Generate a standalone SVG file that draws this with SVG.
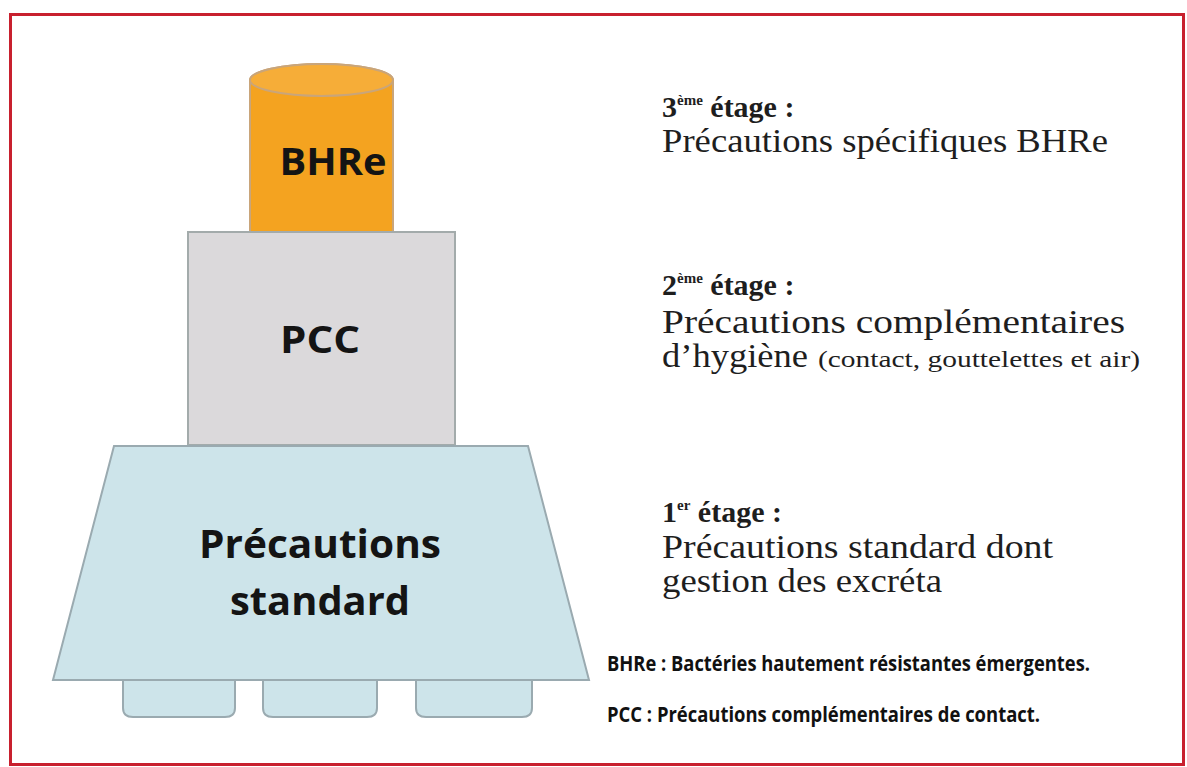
<svg xmlns="http://www.w3.org/2000/svg" width="1187" height="767" viewBox="0 0 1187 767">
  <style>
    .frame { fill: none; stroke: #c8202e; stroke-width: 3; }
    .shape-label { font-family: "Open Sans", "Liberation Sans", sans-serif; font-weight: 700; fill: #141414; text-anchor: middle; }
    .level { font-family: "Liberation Serif", "DejaVu Serif", serif; fill: #1e1e1e; }
    .level-head { font-weight: 700; }
    .legend { font-family: "Open Sans", "Liberation Sans", sans-serif; font-weight: 700; fill: #111; }
    .blue { fill: #cde4ea; stroke: #9aaab0; stroke-width: 2; }
  </style>

  <rect width="1187" height="767" fill="#ffffff"/>
  <rect class="frame" x="10.5" y="14.5" width="1173" height="750"/>

  <!-- third level: BHRe cylinder -->
  <g id="node-bhre">
    <path d="M250,80 A71.5,16 0 0,1 393,80 V232 H250 Z" fill="#f4a320" stroke="#c9a57a" stroke-width="2"/>
    <ellipse cx="321.5" cy="80" rx="71.5" ry="16" fill="#f6ad38" stroke="#c9a57a" stroke-width="2"/>
    <text class="shape-label" x="333" y="175" font-size="38" textLength="107" lengthAdjust="spacingAndGlyphs">BHRe</text>
  </g>

  <!-- second level: PCC block -->
  <g id="node-pcc">
    <rect x="188" y="232" width="267" height="213" fill="#dbd9db" stroke="#a3abab" stroke-width="2"/>
    <text class="shape-label" x="320" y="353" font-size="38" textLength="80" lengthAdjust="spacingAndGlyphs">PCC</text>
  </g>

  <!-- first level: standard precautions base with feet -->
  <g id="node-standard">
    <path class="blue" d="M123,679 V708 Q123,717 133,717 H225 Q235,717 235,708 V679 Z"/>
    <path class="blue" d="M263,679 V708 Q263,717 273,717 H367 Q377,717 377,708 V679 Z"/>
    <path class="blue" d="M416,679 V708 Q416,717 426,717 H522 Q532,717 532,708 V679 Z"/>
    <polygon class="blue" points="114,446 528,446 589,680 53,680"/>
    <text class="shape-label" x="320" y="558" font-size="40" textLength="242" lengthAdjust="spacingAndGlyphs">Précautions</text>
    <text class="shape-label" x="320" y="615" font-size="40" textLength="180" lengthAdjust="spacingAndGlyphs">standard</text>
  </g>

  <!-- level descriptions -->
  <g id="desc-level3" class="level">
    <text class="level-head" x="662" y="117" font-size="30">3<tspan font-size="15" dy="-12">ème</tspan><tspan dy="12"> étage :</tspan></text>
    <text x="662" y="152" font-size="34" textLength="446" lengthAdjust="spacingAndGlyphs">Précautions spécifiques BHRe</text>
  </g>
  <g id="desc-level2" class="level">
    <text class="level-head" x="662" y="295" font-size="30">2<tspan font-size="15" dy="-12">ème</tspan><tspan dy="12"> étage :</tspan></text>
    <text x="662" y="333" font-size="34" textLength="463" lengthAdjust="spacingAndGlyphs">Précautions complémentaires</text>
    <text x="662" y="367" font-size="34" textLength="146" lengthAdjust="spacingAndGlyphs">d’hygiène</text>
    <text x="818" y="367" font-size="23" textLength="322" lengthAdjust="spacingAndGlyphs">(contact, gouttelettes et air)</text>
  </g>
  <g id="desc-level1" class="level">
    <text class="level-head" x="662" y="522" font-size="30">1<tspan font-size="15" dy="-12">er</tspan><tspan dy="12"> étage :</tspan></text>
    <text x="662" y="558" font-size="34" textLength="391" lengthAdjust="spacingAndGlyphs">Précautions standard dont</text>
    <text x="662" y="592" font-size="34" textLength="280" lengthAdjust="spacingAndGlyphs">gestion des excréta</text>
  </g>

  <!-- abbreviations -->
  <g id="legend">
    <text class="legend" x="607" y="671" font-size="22" textLength="483" lengthAdjust="spacingAndGlyphs">BHRe : Bactéries hautement résistantes émergentes.</text>
    <text class="legend" x="607" y="722" font-size="22" textLength="433" lengthAdjust="spacingAndGlyphs">PCC : Précautions complémentaires de contact.</text>
  </g>

  <g id="connectors"/>
</svg>
